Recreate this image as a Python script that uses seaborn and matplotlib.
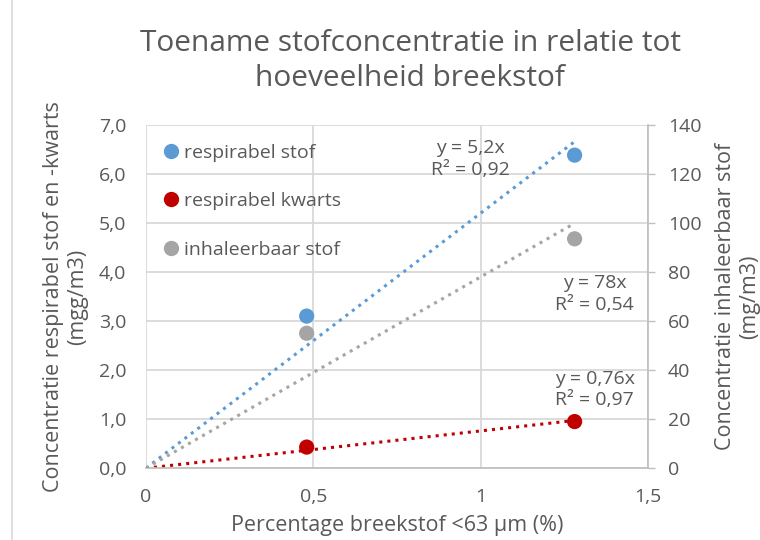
import matplotlib
matplotlib.use("Agg")
import matplotlib.pyplot as plt
import matplotlib.lines as mlines
import seaborn as sns
import pandas as pd
from matplotlib.ticker import FuncFormatter

# data (gelezen uit de grafiek)
breekstof = [0.48, 1.28]
resp_stof = [3.10, 6.38]      # linker as, mg/m3
resp_kwarts = [0.43, 0.95]    # linker as
inh_stof = [55.0, 93.5]       # rechter as
slope_resp = 5.2
slope_kwarts = 0.76
slope_inh = 78
labels = ["respirabel stof", "respirabel kwarts", "inhaleerbaar stof"]
colors = ["#5B9BD5", "#C00000", "#A5A5A5"]

sns.set_theme(style="white")
plt.rcParams['font.family'] = ['Open Sans', 'DejaVu Sans']
txt = "#595959"
grid = "#D9D9D9"

fig = plt.figure(figsize=(7.6, 5.4), dpi=100)
ax = fig.add_axes([0.192, 0.133, 0.661, 0.636])
ax2 = ax.twinx()

df = pd.DataFrame({"x": breekstof, "stof": resp_stof, "kwarts": resp_kwarts, "inh": inh_stof})
xline = [0, max(breekstof)]
tl = pd.DataFrame({"x": xline,
                   "stof": [slope_resp * v for v in xline],
                   "kwarts": [slope_kwarts * v for v in xline],
                   "inh": [slope_inh * v for v in xline]})

# trendlijnen (door de oorsprong)
sns.lineplot(data=tl, x="x", y="stof", ax=ax, color=colors[0], linestyle=":", linewidth=2.2)
sns.lineplot(data=tl, x="x", y="kwarts", ax=ax, color=colors[1], linestyle=":", linewidth=2.2)
sns.lineplot(data=tl, x="x", y="inh", ax=ax2, color=colors[2], linestyle=":", linewidth=2.2)
# meetpunten
sns.scatterplot(data=df, x="x", y="stof", ax=ax, color=colors[0], s=120, edgecolor="none", zorder=5)
sns.scatterplot(data=df, x="x", y="kwarts", ax=ax, color=colors[1], s=120, edgecolor="none", zorder=5)
sns.scatterplot(data=df, x="x", y="inh", ax=ax2, color=colors[2], s=120, edgecolor="none", zorder=5)

ax.set_xlim(0, 1.5)
ax.set_ylim(0, 7)
ax2.set_ylim(0, 140)
ax.set_xticks([0, 0.5, 1, 1.5])
ax.set_yticks(range(0, 8))
ax2.set_yticks(range(0, 141, 20))
ax.xaxis.set_major_formatter(FuncFormatter(lambda v, p: f"{v:g}".replace(".", ",")))
ax.yaxis.set_major_formatter(FuncFormatter(lambda v, p: f"{v:.1f}".replace(".", ",")))
ax.grid(True, color=grid, linewidth=1.3)
ax2.grid(False)

for a in (ax, ax2):
    for s in a.spines.values():
        s.set_visible(False)
ax.spines["bottom"].set_visible(True)
ax.spines["bottom"].set_color("#BFBFBF")
ax2.spines["right"].set_visible(True)
ax2.spines["right"].set_color("#BFBFBF")

ax.tick_params(axis="both", colors=txt, labelsize=14, length=0, pad=14)
ax.tick_params(axis="x", pad=14)
ax2.tick_params(axis="y", colors=txt, labelsize=14, length=5, width=1, color="#BFBFBF", direction="out", pad=9)

ax.set_xlabel("Percentage breekstof <63 µm (%)", color=txt, fontsize=15.5, labelpad=7)
ax.set_ylabel("Concentratie respirabel stof en -kwarts\n(mgg/m3)", color=txt, fontsize=15.5, labelpad=8,
              linespacing=1.2)
ax2.set_ylabel("Concentratie inhaleerbaar stof\n(mg/m3)", color=txt, fontsize=15.5, labelpad=10,
               linespacing=1.15)

ax.text(0.97, 6.3, "y = 5,2x\nR² = 0,92", ha="center", va="center", color=txt, fontsize=14, linespacing=1.25)
ax.text(1.34, 3.55, "y = 78x\nR² = 0,54", ha="center", va="center", color=txt, fontsize=14, linespacing=1.25)
ax.text(1.34, 1.6, "y = 0,76x\nR² = 0,97", ha="center", va="center", color=txt, fontsize=14, linespacing=1.25)

handles = [mlines.Line2D([], [], marker="o", linestyle="none", markersize=10, color=c, label=l)
           for c, l in zip(colors, labels)]
leg = ax2.legend(handles=handles, loc="upper left", bbox_to_anchor=(0.0, 0.985), frameon=False,
                 fontsize=14, labelspacing=1.58, handletextpad=0.05, handlelength=1.2, borderaxespad=0.3)
for t in leg.get_texts():
    t.set_color(txt)

fig.text(0.54, 0.887, "Toename stofconcentratie in relatie tot\nhoeveelheid breekstof",
         ha="center", va="center", color=txt, fontsize=21.5, linespacing=1.3)
fig.add_artist(mlines.Line2D([12 / 760, 12 / 760], [0, 1], color="#D9D9D9", linewidth=1.2))

fig.savefig("out.png", dpi=100)
